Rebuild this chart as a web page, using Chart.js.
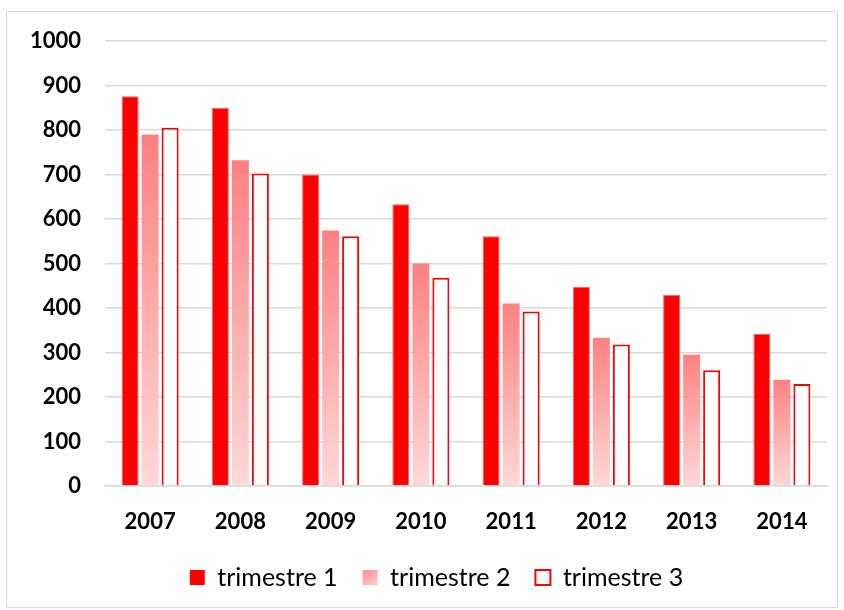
<!DOCTYPE html>
<html lang="fr">
<head>
<meta charset="UTF-8">
<title>trimestres</title>
<script src="https://cdn.jsdelivr.net/npm/chart.js"></script>
<style>
  body { margin: 0; background: #fff; }
  #box { position: absolute; left: 6px; top: 11px; width: 830px; height: 595px; border: 1px solid #d9d9d9; }
  #myChart { position: absolute; left: 0; top: 0; }
</style>
</head>
<body>
<div id="box"><canvas id="myChart" width="837" height="595"></canvas></div>
<script>
const years = ['2007', '2008', '2009', '2010', '2011', '2012', '2013', '2014'];
const trim1 = [876, 850, 700, 633, 561, 448, 430, 342];
const trim2 = [790, 732, 574, 500, 410, 333, 295, 239];
const trim3 = [805, 702, 561, 468, 392, 318, 260, 229];
const yTicks = [0, 100, 200, 300, 400, 500, 600, 700, 800, 900, 1000];

function pinkGrad(c, x0, y0, x1, y1) {
  const g = c.createLinearGradient(x0, y0, x1, y1);
  g.addColorStop(0, '#ff8080');
  g.addColorStop(1, '#ffd8d8');
  return g;
}

// light-red gradient for the 2nd series, one per bar, and for its legend box
const barGradient = {
  id: 'barGradient',
  afterDatasetsUpdate(chart) {
    const c = chart.ctx;
    chart.getDatasetMeta(1).data.forEach(bar => {
      const l = bar.x - bar.width / 2, r = bar.x + bar.width / 2;
      bar.options = Object.assign({}, bar.options, { backgroundColor: pinkGrad(c, l, bar.y, r, bar.base) });
    });
  },
  beforeDraw(chart) {
    const lg = chart.legend;
    if (!lg || !lg.legendHitBoxes || !lg.legendHitBoxes[1]) return;
    const hb = lg.legendHitBoxes[1];
    lg.legendItems[1].fillStyle = pinkGrad(chart.ctx, hb.left, hb.top, hb.left + 15, hb.top + hb.height);
  }
};

new Chart(document.getElementById('myChart'), {
  type: 'bar',
  data: {
    labels: years,
    datasets: [
      { label: 'trimestre 1', data: trim1, backgroundColor: '#ff0000', borderColor: '#ff6060', borderWidth: 1 },
      { label: 'trimestre 2', data: trim2, backgroundColor: '#ffa0a0', borderWidth: 0 },
      { label: 'trimestre 3', data: trim3, backgroundColor: '#ffffff', borderColor: '#ff0000', borderWidth: 2 }
    ]
  },
  options: {
    responsive: false,
    animation: false,
    layout: { padding: { top: 29, right: 0, left: 22, bottom: 7 } },
    datasets: { bar: { categoryPercentage: 0.665, barPercentage: 0.85 } },
    scales: {
      x: {
        grid: { display: false, drawTicks: false },
        border: { display: true, color: '#d9d9d9', width: 1.5 },
        ticks: { padding: 23, color: '#000', font: { family: 'Lato', size: 22, weight: 'bold' } },
        afterFit: axis => { axis.height = 54; axis.paddingLeft = 0; axis.paddingRight = 0; }
      },
      y: {
        min: 0, max: 1000,
        afterBuildTicks: axis => { axis.ticks = yTicks.map(v => ({ value: v })); },
        grid: { color: '#d9d9d9', lineWidth: 1.5, drawTicks: false },
        border: { display: false },
        ticks: {
          padding: 24, color: '#000',
          font: { family: 'Lato', size: 22, weight: 'bold' },
          callback: v => String(v)
        },
        afterFit: axis => { axis.width = 76; axis.paddingTop = 0; axis.paddingBottom = 0; }
      },
      // empty right axis: only keeps room so the legend sits where it does in the original
      yR: {
        position: 'right',
        grid: { display: false, drawTicks: false },
        border: { display: false },
        ticks: { display: false },
        afterFit: axis => { axis.width = 17; axis.paddingTop = 0; axis.paddingBottom = 0; }
      }
    },
    plugins: {
      legend: {
        position: 'bottom',
        labels: {
          color: '#000',
          boxWidth: 15, boxHeight: 15,
          padding: 25,
          font: { family: 'Lato', size: 25 },
          generateLabels: chart => chart.data.datasets.map((ds, i) => ({
            text: ds.label,
            datasetIndex: i,
            fillStyle: ds.backgroundColor,
            strokeStyle: i === 2 ? '#ff0000' : ds.backgroundColor,
            lineWidth: i === 2 ? 2 : 0,
            fontColor: '#000'
          }))
        }
      },
      tooltip: { enabled: false }
    }
  },
  plugins: [barGradient]
});
</script>
</body>
</html>
